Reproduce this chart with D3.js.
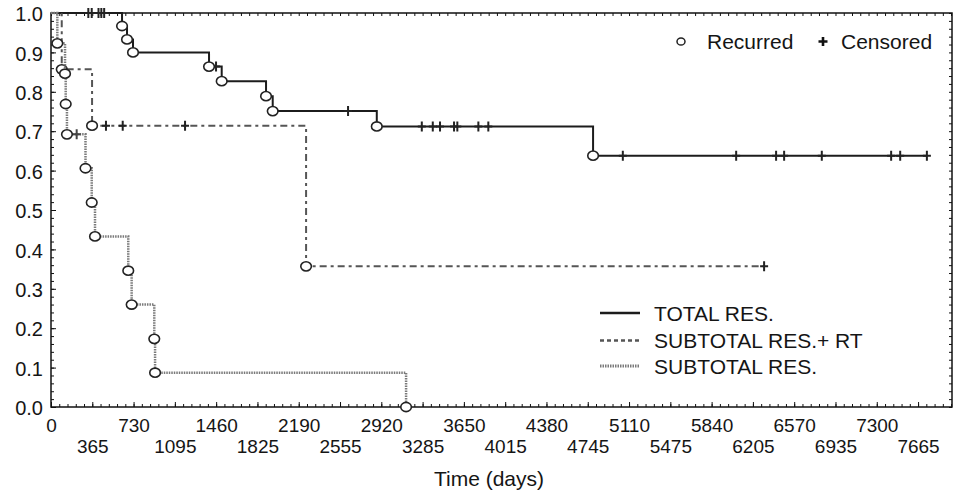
<!DOCTYPE html>
<html>
<head>
<meta charset="utf-8">
<script src="https://cdn.jsdelivr.net/npm/d3@7"></script>
<style>
body { margin: 0; background: #fff; }
text { font-family: "Liberation Sans", Arial, sans-serif; fill: #151515; }
</style>
</head>
<body>
<div id="chart"></div>
<script>
const width = 960;
const height = 494;

// tick labels
const xTicks = [0, 365, 730, 1095, 1460, 1825, 2190, 2555, 2920, 3285, 3650,
    4015, 4380, 4745, 5110, 5475, 5840, 6205, 6570, 6935, 7300, 7665];
const yTicks = [0, 0.1, 0.2, 0.3, 0.4, 0.5, 0.6, 0.7, 0.8, 0.9, 1.0];

// recurrences: [day, cumulative proportion after the event]
const totalRecurred = [[628, 0.967], [672, 0.933], [725, 0.900], [1397, 0.864], [1509, 0.827],
    [1901, 0.789], [1960, 0.751], [2880, 0.712], [4792, 0.638]];
const totalCensored = [330, 360, 420, 445, 470, 1459, 2626, 3278, 3375, 3439, 3563, 3592,
    3778, 3866, 5055, 6057, 6410, 6481, 6814, 7427, 7507, 7743];

const rtRecurred = [[95, 0.857], [363, 0.714], [2255, 0.357]];
const rtCensored = [486, 634, 1185, 6304];

const subRecurred = [[56, 0.923], [124, 0.846], [130, 0.769], [141, 0.692], [305, 0.606],
    [360, 0.519], [389, 0.433], [683, 0.346], [713, 0.260], [913, 0.173], [920, 0.087], [3139, 0]];
const subCensored = [227];

const groups = [
    { name: "TOTAL RES.", recurred: totalRecurred, censored: totalCensored,
      color: "#1c1c1c", width: 2, dash: null, legendDash: null },
    { name: "SUBTOTAL RES.+ RT", recurred: rtRecurred, censored: rtCensored,
      color: "#555", width: 2, dash: "7,4,3,4", legendDash: "4,3" },
    { name: "SUBTOTAL RES.", recurred: subRecurred, censored: subCensored,
      color: "#7a7a7a", width: 2.5, dash: "1.5,1", legendDash: "1.5,1" }
];

const svg = d3.select("#chart").append("svg")
    .attr("width", width)
    .attr("height", height);

const x = d3.scaleLinear().domain([0, 7965]).range([51, 952]);
const y = d3.scaleLinear().domain([0, 1]).range([407, 13]);

// value of the step curve at day t
function stepAt(recurred, t) {
    let s = 1;
    recurred.forEach(r => { if (r[0] <= t) s = r[1]; });
    return s;
}

// minor ticks on all four sides, pointing inwards
const xMinor = d3.range(0, 7965, 73);
const yMinor = d3.range(0, 1.001, 0.02);

function noDomain(g) { g.select(".domain").remove(); }

svg.append("g").attr("transform", "translate(0,407)")
    .call(d3.axisBottom(x).tickValues(xMinor).tickSize(-3).tickFormat("")).call(noDomain);
svg.append("g").attr("transform", "translate(0,13)")
    .call(d3.axisTop(x).tickValues(xMinor).tickSize(-3).tickFormat("")).call(noDomain);
svg.append("g").attr("transform", "translate(51,0)")
    .call(d3.axisLeft(y).tickValues(yMinor).tickSize(-3).tickFormat("")).call(noDomain);
svg.append("g").attr("transform", "translate(952,0)")
    .call(d3.axisRight(y).tickValues(yMinor).tickSize(-3).tickFormat("")).call(noDomain);

// major ticks with labels
const xAxis = svg.append("g").attr("transform", "translate(0,407)")
    .call(d3.axisBottom(x).tickValues(xTicks).tickSize(-5).tickFormat(d3.format("d")))
    .call(noDomain);
xAxis.selectAll("text")
    .attr("y", (d, i) => i % 2 ? 46 : 25)
    .attr("dy", 0)
    .style("font-size", "19px");

const yAxis = svg.append("g").attr("transform", "translate(51,0)")
    .call(d3.axisLeft(y).tickValues(yTicks).tickSize(-5).tickPadding(8).tickFormat(d3.format(".1f")))
    .call(noDomain);
yAxis.selectAll("text")
    .attr("dy", "0.38em")
    .style("font-size", "20px");

svg.selectAll(".tick line").attr("stroke", "#111");

// frame
svg.append("rect")
    .attr("x", x.range()[0])
    .attr("y", y.range()[1])
    .attr("width", x.range()[1] - x.range()[0])
    .attr("height", y.range()[0] - y.range()[1])
    .attr("fill", "none")
    .attr("stroke", "#111")
    .attr("stroke-width", 1.5);

svg.append("text")
    .attr("x", 489)
    .attr("y", 486)
    .attr("text-anchor", "middle")
    .style("font-size", "21px")
    .text("Time (days)");

// curves
const line = d3.line()
    .x(d => x(d[0]))
    .y(d => y(d[1]))
    .curve(d3.curveStepAfter);

groups.forEach(g => {
    const last = g.recurred[g.recurred.length - 1];
    const end = Math.max(last[0], d3.max(g.censored));
    const pts = [[0, 1]].concat(g.recurred, [[end, stepAt(g.recurred, end)]]);

    svg.append("path")
        .datum(pts)
        .attr("d", line)
        .attr("fill", "none")
        .attr("stroke", g.color)
        .attr("stroke-width", g.width)
        .attr("stroke-dasharray", g.dash);

    svg.append("g").selectAll("path")
        .data(g.censored)
        .enter().append("path")
        .attr("d", d => {
            const cx = x(d), cy = y(stepAt(g.recurred, d));
            return `M${cx},${cy - 5}V${cy + 5}M${cx - 4},${cy}H${cx + 4}`;
        })
        .attr("stroke", g.color === "#7a7a7a" ? "#444" : "#222")
        .attr("stroke-width", 2)
        .attr("fill", "none");

    svg.append("g").selectAll("ellipse")
        .data(g.recurred)
        .enter().append("ellipse")
        .attr("cx", d => x(d[0]))
        .attr("cy", d => y(d[1]))
        .attr("rx", 5.3)
        .attr("ry", 4.6)
        .attr("fill", "#fff")
        .attr("stroke", "#222")
        .attr("stroke-width", 1.6);
});

// legend of lines
const legend = svg.append("g");
const legendY = [313, 340.5, 366];
groups.forEach((g, i) => {
    legend.append("line")
        .attr("x1", 600).attr("x2", 640)
        .attr("y1", legendY[i]).attr("y2", legendY[i])
        .attr("stroke", g.color)
        .attr("stroke-width", g.width + 0.5)
        .attr("stroke-dasharray", g.legendDash);
    legend.append("text")
        .attr("x", 654)
        .attr("y", legendY[i] + 7.5)
        .style("font-size", "21px")
        .text(g.name);
});

// legend of symbols
legend.append("ellipse")
    .attr("cx", 681).attr("cy", 41.5)
    .attr("rx", 4).attr("ry", 3.6)
    .attr("fill", "#fff").attr("stroke", "#222").attr("stroke-width", 1.5);
legend.append("text").attr("x", 707).attr("y", 49).style("font-size", "21px").text("Recurred");
legend.append("path")
    .attr("d", "M823,37V46M818.5,41.5H827.5")
    .attr("stroke", "#111").attr("stroke-width", 2.6);
legend.append("text").attr("x", 841).attr("y", 49).style("font-size", "21px").text("Censored");
</script>
</body>
</html>
